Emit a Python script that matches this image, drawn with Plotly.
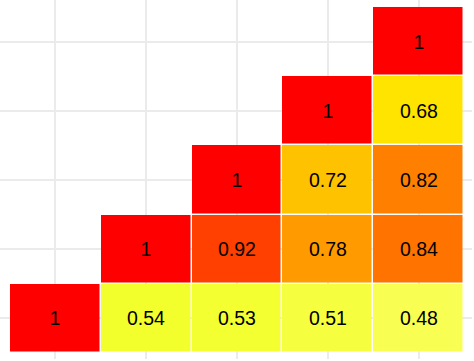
import plotly.graph_objects as go

# Lower-triangular correlation values; row 0 is the bottom row
x_labels = ["V1", "V2", "V3", "V4", "V5"]
y_labels = ["V1", "V2", "V3", "V4", "V5"]
row0 = [1.00, 0.54, 0.53, 0.51, 0.48]
row1 = [None, 1.00, 0.92, 0.78, 0.84]
row2 = [None, None, 1.00, 0.72, 0.82]
row3 = [None, None, None, 1.00, 0.68]
row4 = [None, None, None, None, 1.00]
z = [row0, row1, row2, row3, row4]

def fmt(v):
    if v is None:
        return ""
    s = f"{v:.2f}".rstrip("0").rstrip(".")
    return s

text = [[fmt(v) for v in r] for r in z]

colorscale = [
    [0.000, "#F8FF52"],
    [0.115, "#F3FF2C"],
    [0.385, "#FFE400"],
    [0.460, "#FFC300"],
    [0.577, "#FF9A00"],
    [0.654, "#FF8000"],
    [0.692, "#FF7300"],
    [0.846, "#FF4000"],
    [1.000, "#FF0000"],
]

fig = go.Figure(go.Heatmap(
    z=z,
    x=list(range(len(x_labels))),
    y=list(range(len(y_labels))),
    text=text,
    texttemplate="%{text}",
    textfont=dict(family="Liberation Sans, Arial, sans-serif", size=19.5, color="black"),
    colorscale=colorscale,
    zmin=0.48, zmax=1.0,
    showscale=False,
    xgap=1.5, ygap=1.5,
    hoverongaps=False,
))

fig.update_layout(
    width=474, height=361,
    margin=dict(l=0, r=2, t=0, b=2),
    paper_bgcolor="white",
    plot_bgcolor="white",
)
fig.update_xaxes(range=[-0.61, 4.588], showticklabels=False, ticks="",
                 showgrid=True, gridcolor="#EBEBEB", gridwidth=2,
                 zeroline=False, showline=False, tickvals=list(range(5)))
fig.update_yaxes(range=[-0.587, 4.601], showticklabels=False, ticks="",
                 showgrid=True, gridcolor="#EBEBEB", gridwidth=2,
                 zeroline=False, showline=False, tickvals=list(range(5)))

fig.write_html(
    "out.html",
    config={"displayModeBar": False},
    post_script="document.body.style.margin='0';document.body.style.overflow='hidden';",
)
